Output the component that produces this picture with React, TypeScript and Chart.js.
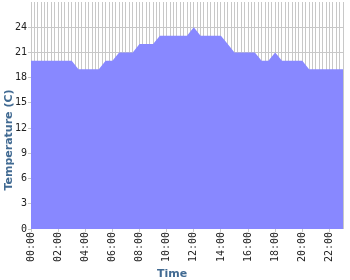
import React, { useEffect, useRef } from "react";
import { Chart, registerables } from "chart.js";

Chart.register(...registerables);

const times = [
  "00:00", "00:30", "01:00", "01:30", "02:00", "02:30", "03:00", "03:30",
  "04:00", "04:30", "05:00", "05:30", "06:00", "06:30", "07:00", "07:30",
  "08:00", "08:30", "09:00", "09:30", "10:00", "10:30", "11:00", "11:30",
  "12:00", "12:30", "13:00", "13:30", "14:00", "14:30", "15:00", "15:30",
  "16:00", "16:30", "17:00", "17:30", "18:00", "18:30", "19:00", "19:30",
  "20:00", "20:30", "21:00", "21:30", "22:00", "22:30", "23:00",
];

const temperatures = [
  20, 20, 20, 20, 20, 20, 20, 19,
  19, 19, 19, 20, 20, 21, 21, 21,
  22, 22, 22, 23, 23, 23, 23, 23,
  24, 23, 23, 23, 23, 22, 21, 21,
  21, 21, 20, 20, 21, 20, 20, 20,
  20, 19, 19, 19, 19, 19, 19,
];

const xTickLabels = [
  "00:00", "02:00", "04:00", "06:00", "08:00", "10:00",
  "12:00", "14:00", "16:00", "18:00", "20:00", "22:00",
];
const yTickLabels = [0, 3, 6, 9, 12, 15, 18, 21, 24];

const xTitle = "Time";
const yTitle = "Temperature (C)";

const toHours = (t: string) => {
  const [h, m] = t.split(":").map(Number);
  return h + m / 60;
};

const GRID = "#c8c8c8";
const CLEAR = "rgba(0,0,0,0)";
const TITLE_COLOR = "#416a92";

const titlesPlugin = {
  id: "axisTitles",
  afterDraw(chart: any) {
    const ctx = chart.ctx;
    ctx.save();
    ctx.font = 'bold 11px "DejaVu Sans"';
    ctx.fillStyle = TITLE_COLOR;
    ctx.textAlign = "center";
    ctx.textBaseline = "alphabetic";
    ctx.fillText(xTitle, 172, 277);
    ctx.translate(12, 140);
    ctx.rotate(-Math.PI / 2);
    ctx.fillText(yTitle, 0, 0);
    ctx.restore();
  },
};

export default function App() {
  const ref = useRef<HTMLCanvasElement | null>(null);

  useEffect(() => {
    if (!ref.current) return;
    const data = times.map((t, i) => ({ x: toHours(t), y: temperatures[i] }));
    const chart = new Chart(ref.current, {
      type: "line",
      data: {
        datasets: [
          {
            data,
            fill: "origin",
            backgroundColor: "#8888ff",
            borderColor: "#8888ff",
            borderWidth: 0,
            pointRadius: 0,
            tension: 0,
          },
        ],
      },
      options: {
        animation: false,
        responsive: false,
        maintainAspectRatio: false,
        layout: { padding: { top: 2, right: 7, left: 0, bottom: 0 } },
        plugins: { legend: { display: false }, tooltip: { enabled: false } },
        scales: {
          x: {
            type: "linear",
            min: 0,
            max: 23,
            border: { display: false },
            grid: {
              color: GRID,
              lineWidth: 1,
              tickLength: 3,
              tickColor: (c: any) =>
                c.tick && c.tick.value % 2 === 0 ? GRID : CLEAR,
            },
            ticks: {
              stepSize: 0.25,
              autoSkip: false,
              maxRotation: 90,
              minRotation: 90,
              padding: 0,
              color: "#222",
              font: { family: '"DejaVu Sans Mono"', size: 10 },
              callback: (v: any) =>
                Number(v) % 2 === 0 ? xTickLabels[Number(v) / 2] ?? "" : "",
            },
            afterFit: (s: any) => {
              s.height = 51;
              s.paddingLeft = 0;
              s.paddingRight = 0;
            },
          },
          y: {
            min: 0,
            max: 27,
            border: { display: false },
            grid: {
              color: (c: any) =>
                c.tick && c.tick.value > 0 && c.tick.value <= 24 ? GRID : CLEAR,
              lineWidth: 1,
              tickLength: 3,
              tickColor: (c: any) =>
                c.tick && c.tick.value <= 24 ? GRID : CLEAR,
            },
            ticks: {
              stepSize: 3,
              padding: 1,
              color: "#222",
              font: { family: '"DejaVu Sans Mono"', size: 10 },
              callback: (v: any) =>
                yTickLabels.includes(Number(v)) ? String(v) : "",
            },
            afterFit: (s: any) => {
              s.width = 31;
              s.paddingTop = 0;
              s.paddingBottom = 0;
            },
          },
        },
      },
      plugins: [titlesPlugin],
    });
    return () => chart.destroy();
  }, []);

  return (
    <canvas
      ref={ref}
      width={350}
      height={280}
      style={{ position: "absolute", left: 0, top: 0, width: 350, height: 280, display: "block" }}
    />
  );
}
